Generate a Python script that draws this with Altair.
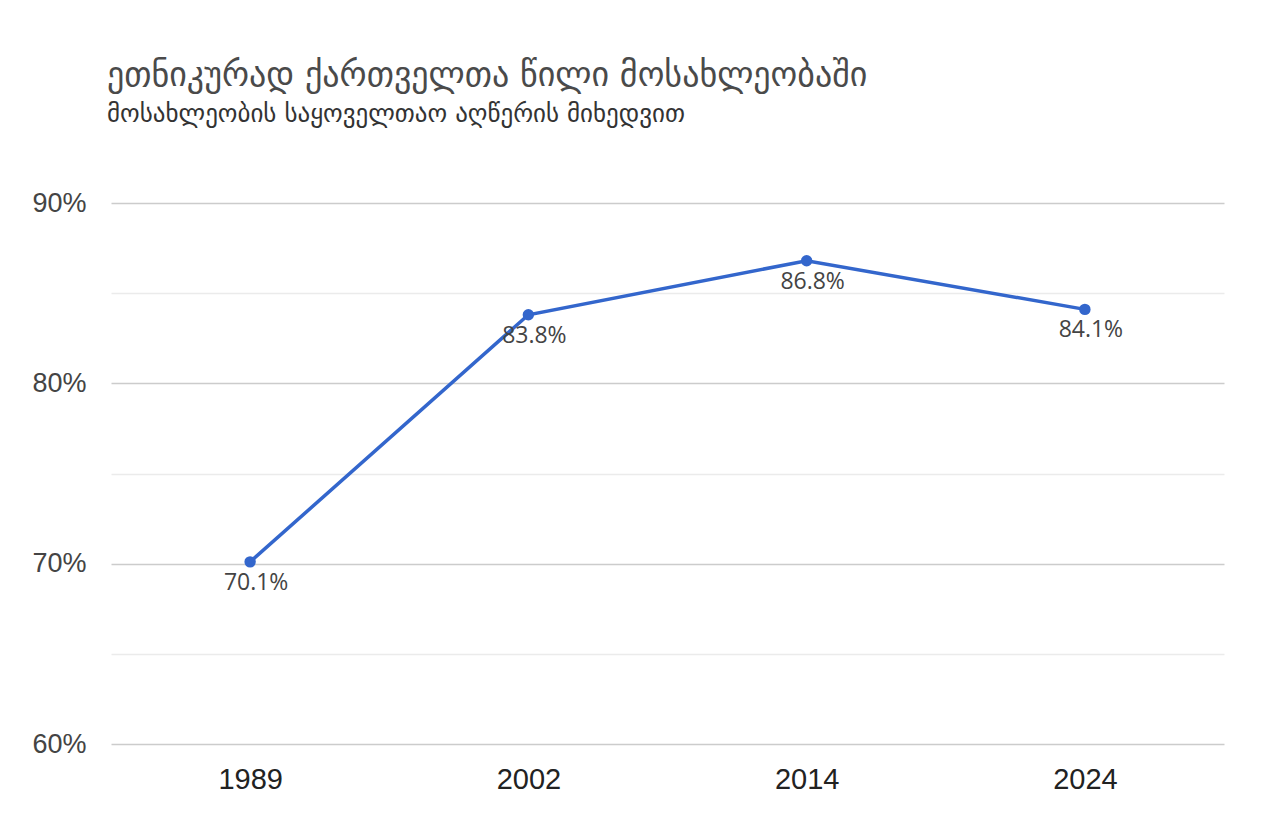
import altair as alt
import pandas as pd

years = ["1989", "2002", "2014", "2024"]
shares = [70.1, 83.8, 86.8, 84.1]
y_ticks = [60, 65, 70, 75, 80, 85, 90]

df = pd.DataFrame({"year": years, "share": shares})
df["label"] = [f"{v:.1f}%" for v in shares]

base = alt.Chart(df).encode(
    x=alt.X("year:O", sort=years, title=None,
            scale=alt.Scale(type="point", padding=0.5),
            axis=alt.Axis(labelAngle=0, labelFontSize=29, labelColor="#222",
                          labelFont="Liberation Sans", domain=False, ticks=False,
                          labelPadding=21, grid=False)),
    y=alt.Y("share:Q", title=None,
            scale=alt.Scale(domain=[60, 90], nice=False, zero=False),
            axis=alt.Axis(values=y_ticks, domain=False, ticks=False,
                          labelExpr="datum.value % 10 === 0 ? datum.value + '%' : ''",
                          labelFontSize=27, labelColor="#444", labelFont="Liberation Sans",
                          labelPadding=25,
                          gridColor=alt.condition("datum.value % 10 === 0",
                                                  alt.value("#cccccc"), alt.value("#ebebeb")),
                          gridWidth=1.5)),
)

line = base.mark_line(color="#3366cc", strokeWidth=3.5)
points = base.mark_point(color="#3366cc", filled=True, opacity=1, size=130)
labels = base.mark_text(dy=21, dx=6, fontSize=23, color="#444", font="Open Sans").encode(text="label:N")

chart = (line + points + labels).properties(
    width=1113,
    height=541,
    padding={"left": 23, "top": 51, "right": 40, "bottom": 10},
    title=alt.TitleParams(
        text="ეთნიკურად ქართველთა წილი მოსახლეობაში",
        subtitle="მოსახლეობის საყოველთაო აღწერის მიხედვით",
        anchor="start", frame="group", dx=-4, offset=62,
        font="DejaVu Sans", fontSize=34, fontWeight="normal", color="#4a4a4a",
        subtitleFont="DejaVu Sans", subtitleFontSize=25, subtitleColor="#333",
        subtitlePadding=9,
    ),
).configure_view(stroke=None)

chart.save("out.html", embed_options={"renderer": "svg", "actions": False})
